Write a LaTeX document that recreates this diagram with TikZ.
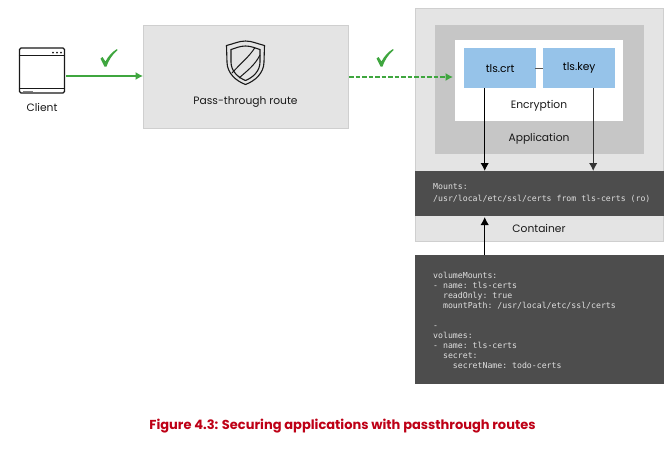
\documentclass[tikz,border=0pt]{standalone}
\usepackage{fontspec}
\setmainfont{Poppins}
\setmonofont{DejaVu Sans Mono}
\usetikzlibrary{arrows.meta}
\definecolor{boxgray}{HTML}{E4E4E4}
\definecolor{boxline}{HTML}{CFCFCF}
\definecolor{appgray}{HTML}{C6C6C6}
\definecolor{tlsblue}{HTML}{96C3E9}
\definecolor{codegray}{HTML}{4D4D4D}
\definecolor{okgreen}{HTML}{3FA63F}
\definecolor{captionred}{HTML}{BE0016}
\tikzset{
  x=1pt,y=-1pt,
  panel/.style={draw=boxline,fill=boxgray,line width=1pt,anchor=north west,inner sep=0pt},
  flat/.style={anchor=north west,inner sep=0pt},
  label/.style={font=\fontsize{10.7}{12}\selectfont,text=black!90,inner sep=0pt},
  code/.style={font=\ttfamily\fontsize{8.2}{10}\selectfont,text=white!88!black,align=left,anchor=north west,inner sep=0pt},
  okarrow/.style={okgreen,line width=1.3pt,-{Latex[length=7.5pt,width=8pt]}},
  tlsarrow/.style={black,line width=1.2pt,-{Latex[length=8pt,width=8.5pt]}},
  icon/.style={line width=1pt,black!90},
}
\newcommand{\okcheck}[2]{\fill[okgreen,shift={(#1,#2)}] (-8.5,0.5) -- (-6.5,-1) -- (-3.5,3.5) .. controls (-1,-1.5) and (3,-6) .. (8,-9) -- (8.5,-8) .. controls (3,-3) and (-0.5,2.5) .. (-2.5,8.5) -- (-4.5,8.5) -- cycle;}
\begin{document}
\begin{tikzpicture}
  \useasboundingbox[fill=white] (0,0) rectangle (670,453);
  % Route
  \node[panel,minimum width=205pt,minimum height=103pt] (route) at (143,25) {};
  \node[label] (routelabel) at (245.5,101.5) {Pass-through route};
  % Container
  \node[panel,minimum width=248pt,minimum height=233pt] (container) at (415,8) {};
  \node[flat,fill=appgray,minimum width=209pt,minimum height=129pt] (application) at (435,25) {};
  \node[flat,fill=white,minimum width=168pt,minimum height=81pt] (encryption) at (455,40) {};
  \node[flat,fill=tlsblue,minimum width=72pt,minimum height=40pt,font=\fontsize{10.7}{12}\selectfont] (crt) at (464,48) {tls.crt};
  \node[flat,fill=tlsblue,minimum width=72pt,minimum height=40pt,font=\fontsize{10.7}{12}\selectfont] (key) at (543,48) {tls.key};
  \node[label] (encryptionlabel) at (539,105.5) {Encryption};
  \node[label] (applicationlabel) at (539,138.5) {Application};
  \node[flat,fill=codegray,minimum width=249pt,minimum height=45pt] (mounts) at (415,171) {};
  \node[code] (mountstext) at (433,183) {Mounts:\\[2.2pt]/usr/local/etc/ssl/certs from tls-certs (ro)};
  \node[label] (containerlabel) at (539,228) {Container};
  % Yaml
  \node[flat,fill=codegray,minimum width=249pt,minimum height=129pt] (yaml) at (415,255) {};
  \node[code] (yamltext) at (433,272.5) {volumeMounts:\\- name: tls-certs\\\ \ readOnly: true\\\ \ mountPath: /usr/local/etc/ssl/certs\\[10pt]-\\volumes:\\- name: tls-certs\\\ \ secret:\\\ \ \ \ secretName: todo-certs};
  % Client
  \node[draw=black!90,line width=1.2pt,rounded corners=1.5pt,minimum width=45pt,minimum height=45pt,inner sep=0pt] (client) at (42,70.5) {};
  \draw[icon] (client.north west) ++(0,8) -- ++(45,0);
  \draw[icon] (client.south west) ++(0,-5) -- ++(45,0);
  \fill[black!90] (53,52.5) circle (1pt) (57,52.5) circle (1pt) (61,52.5) circle (1pt);
  \fill[black!50] (23,90.5) rectangle (33,91.5);
  \node[label] (clientlabel) at (42,107.5) {Client};
  % Escudo
  \draw[icon,line width=1.1pt] (245.5,41) .. controls (239,41) and (233,44) .. (226.5,45.5) -- (227,62) .. controls (227,73) and (236,81) .. (245.5,84.5) .. controls (255,81) and (264,73) .. (264,62) -- (264.5,45.5) .. controls (258,44) and (252,41) .. (245.5,41) -- cycle;
  \draw[icon,line width=1.1pt] (245.5,46) .. controls (240,46) and (236,48) .. (231,49.5) -- (231,62) .. controls (231,71) and (238,77.5) .. (245.5,80.5) .. controls (253,77.5) and (260,71) .. (260,62) -- (260,49.5) .. controls (255,48) and (251,46) .. (245.5,46) -- cycle;
  \draw[icon] (232,73) .. controls (241,63) and (249,57) .. (255,47.5);
  \draw[icon] (239,78) .. controls (247,71) and (255,65) .. (260,55);
  % Flechas
  \draw[okarrow] (client.east) ++(1,5.5) -- (route.west |- 0,76);
  \draw[okarrow,dash pattern=on 4.5pt off 2pt] (route.east |- 0,77) -- (453,77);
  \draw[line width=1.4pt,black!65] (crt.east) ++(-1,0) -- (key.west);
  \draw[tlsarrow] ([xshift=-15.5pt]crt.south) -- ([xshift=-15.5pt]crt.south |- mounts.north);
  \draw[tlsarrow,black!80] ([xshift=14pt]key.south) -- ([xshift=14pt]key.south |- mounts.north);
  \draw[tlsarrow] (yaml.north -| crt.south) ++(-15.5,0) -- ++(0,-38);
  \okcheck{109}{58}
  \okcheck{385}{58}
  % Titulo
  \node[inner sep=0pt,text=captionred,font=\fontsize{13}{15}\selectfont\bfseries] (caption) at (342.5,426) {Figure 4.3: Securing applications with passthrough routes};
\end{tikzpicture}
\end{document}
